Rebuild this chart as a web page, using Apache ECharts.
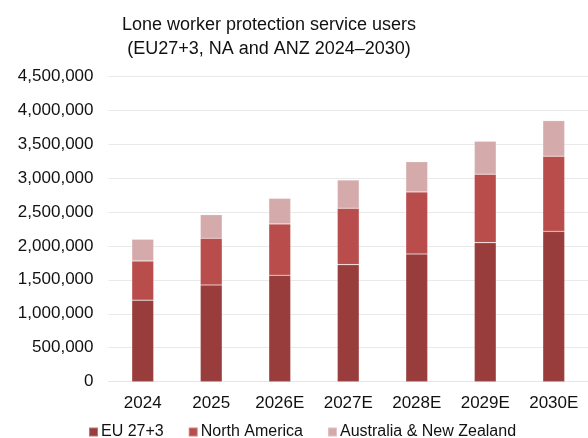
<!DOCTYPE html>
<html>
<head>
<meta charset="utf-8">
<script src="https://cdn.jsdelivr.net/npm/echarts@6/dist/echarts.min.js"></script>
<style>html,body{margin:0;padding:0;background:#fff}#c{width:588px;height:438px}</style>
</head>
<body>
<div id="c"></div>
<script>
const categories = ['2024', '2025', '2026E', '2027E', '2028E', '2029E', '2030E'];
const euValues = [1200000, 1424000, 1567000, 1723000, 1880000, 2047000, 2214000];
const naValues = [577000, 687000, 755000, 830000, 913000, 1007000, 1105000];
const anzValues = [320000, 348000, 378000, 417000, 446000, 486000, 524000];
const seriesNames = ['EU 27+3', 'North America', 'Australia & New Zealand'];
const colors = ['#983d3c', '#b94d4b', '#d5aaab'];

const chart = echarts.init(document.getElementById('c'));
const fmt = v => v.toLocaleString('en-US');
const mk = (name, data, color) => ({
  name, type: 'bar', stack: 'total', data,
  barWidth: '32%',
  itemStyle: { color, borderColor: 'rgba(255,255,255,0.3)', borderWidth: 0.6 }
});
chart.setOption({
  animation: false,
  title: {
    text: 'Lone worker protection service users\n(EU27+3, NA and ANZ 2024\u20132030)',
    left: 269, top: 13, padding: 0, textAlign: 'center',
    textStyle: { fontFamily: 'Liberation Sans, Arial, sans-serif', fontSize: 18, fontWeight: 'normal', color: '#111', lineHeight: 24 }
  },
  legend: {
    left: 88, top: 424, padding: 0, itemWidth: 9, itemHeight: 9, itemGap: 24,
    icon: 'rect',
    textStyle: { fontFamily: 'Liberation Sans, Arial, sans-serif', fontSize: 16, color: '#111', padding: [0, 0, 0, -2] },
    data: seriesNames
  },
  grid: { left: 108.5, right: -2, top: 76, bottom: 56.3, containLabel: false },
  xAxis: {
    type: 'category', data: categories,
    axisLine: { lineStyle: { color: '#e6e6e6', width: 1 } },
    axisTick: { show: false },
    axisLabel: { margin: 13, fontFamily: 'Liberation Sans, Arial, sans-serif', fontSize: 17, color: '#111' }
  },
  yAxis: {
    type: 'value', min: 0, max: 4500000, interval: 500000,
    axisLine: { show: false }, axisTick: { show: false },
    splitLine: { lineStyle: { color: '#e9e9e9', width: 1 } },
    axisLabel: { margin: 15, formatter: fmt, fontFamily: 'Liberation Sans, Arial, sans-serif', fontSize: 17, color: '#111' }
  },
  series: [
    mk(seriesNames[0], euValues, colors[0]),
    mk(seriesNames[1], naValues, colors[1]),
    mk(seriesNames[2], anzValues, colors[2])
  ]
});
</script>
</body>
</html>
